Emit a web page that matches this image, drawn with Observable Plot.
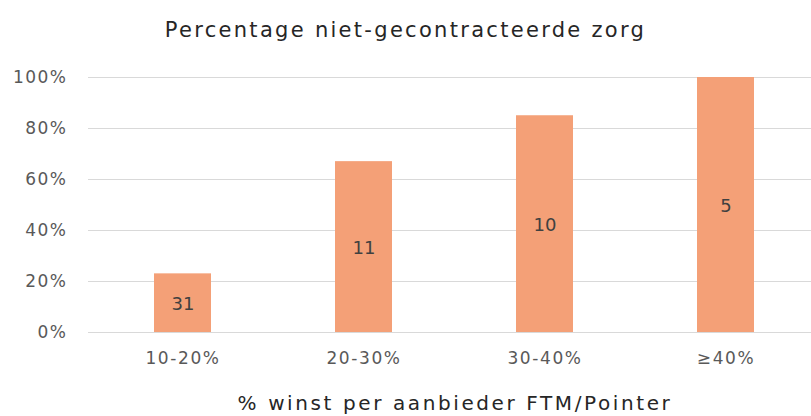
<!DOCTYPE html>
<html>
<head>
<meta charset="utf-8">
<script src="https://cdn.jsdelivr.net/npm/d3@7"></script>
<script src="https://cdn.jsdelivr.net/npm/@observablehq/plot@0.6"></script>
<style>
  html, body { margin: 0; padding: 0; background: #fff; }
  #title { width: 811px; height: 52px; line-height: 60px; text-align: center;
           font-family: "DejaVu Sans", sans-serif; font-size: 21px; letter-spacing: 2.3px; color: #262626; }
  #chart svg { display: block; }
</style>
</head>
<body>
<div id="title">Percentage niet-gecontracteerde zorg</div>
<div id="chart"></div>
<script>
const categories = ["10-20%", "20-30%", "30-40%", "≥40%"];
const shares = [0.23, 0.67, 0.85, 1.00];
const counts = [31, 11, 10, 5];
const yTicks = [0, 0.2, 0.4, 0.6, 0.8, 1.0];
const xTitle = "% winst per aanbieder FTM/Pointer";

const data = categories.map((c, i) => ({cat: c, share: shares[i], n: counts[i]}));
const font = "DejaVu Sans, sans-serif";

const chart = Plot.plot({
  width: 811,
  height: 364,
  marginTop: 25,
  marginBottom: 84,
  marginLeft: 88,
  marginRight: 0,
  style: {fontFamily: font, background: "#fff"},
  x: {type: "band", domain: categories, paddingInner: 0.686, paddingOuter: 0.343, insetLeft: 3, insetRight: -6, label: null},
  y: {domain: [0, 1], label: null},
  marks: [
    Plot.ruleY(yTicks, {stroke: "#d9d9d9", strokeWidth: 1}),
    Plot.barY(data, {x: "cat", y: "share", fill: "#F4A077"}),
    Plot.text(data, {x: "cat", y: d => d.share / 2, dy: 1, text: d => String(d.n), fill: "#404040", fontSize: 18}),
    Plot.axisY(yTicks, {tickSize: 0, tickPadding: 21, tickFormat: d => Math.round(d * 100) + "%", fontSize: 17, fill: "#595959", label: null}),
    Plot.axisX({tickSize: 0, tickPadding: 19, fontSize: 17, fill: "#595959", label: null}),
    Plot.text([xTitle], {frameAnchor: "bottom", dx: 5, dy: 77, text: d => d, fontSize: 20, fill: "#262626"})
  ]
});
const s = d3.select(chart);
s.selectAll("g[aria-label='y-axis tick label'] text").style("letter-spacing", "1.5px");
s.selectAll("g[aria-label='x-axis tick label'] text").style("letter-spacing", "1.6px");
s.selectAll("text").filter(function () { return this.textContent === xTitle; })
  .style("letter-spacing", "2.6px");
document.getElementById("chart").appendChild(chart);
</script>
</body>
</html>
